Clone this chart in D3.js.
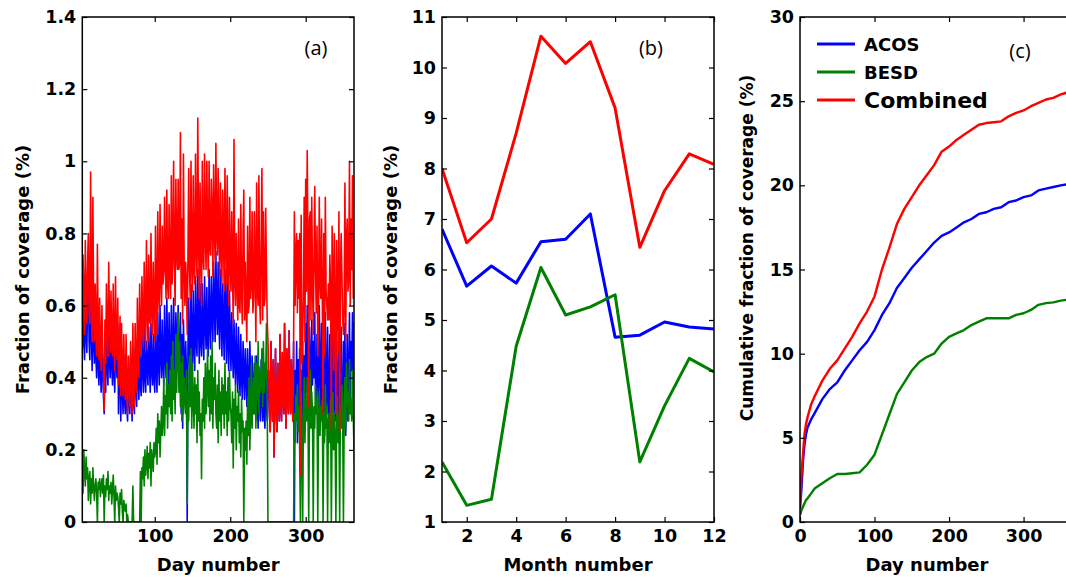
<!DOCTYPE html>
<html>
<head>
<meta charset="utf-8">
<script src="https://cdn.jsdelivr.net/npm/d3@7"></script>
<style>
  body { margin: 0; background: #fff; }
  svg { display: block; }
  .tick text { font-family: "DejaVu Sans", sans-serif; font-weight: bold; font-size: 17.5px; fill: #000; }
  .tick line { stroke: #000; stroke-width: 1.2; }
  .axis-title { font-family: "DejaVu Sans", sans-serif; font-weight: bold; font-size: 18px; fill: #000; }
  .panel-tag { font-family: "Open Sans", sans-serif; font-size: 20px; fill: #000; }
  .legend-label { font-family: "DejaVu Sans", sans-serif; font-weight: bold; fill: #000; }
</style>
</head>
<body>
<div id="chart"></div>
<script>
// ---- Panel (a): daily fraction of coverage (%) ----
const aBlue = [
  0.55,0.22,0.6,0.48,0.68,0.5,0.45,0.66,0.52,0.47,
  0.62,0.71,0.5,0.45,0.64,0.55,0.42,0.6,0.5,0.44,
  0.58,0.46,0.4,0.56,0.44,0.38,0.52,0.42,0.36,0.5,
  0.42,0.35,0.3,0.48,0.36,0.55,0.44,0.38,0.58,0.45,
  0.4,0.56,0.44,0.38,0.54,0.42,0.36,0.5,0.45,0.4,
  0.55,0.3,0.4,0.5,0.28,0.44,0.38,0.3,0.46,0.34,
  0.3,0.45,0.32,0.28,0.42,0.34,0.3,0.46,0.35,0.28,
  0.44,0.34,0.3,0.48,0.38,0.32,0.5,0.4,0.34,0.5,
  0.38,0.35,0.52,0.42,0.36,0.55,0.4,0.36,0.5,0.42,
  0.38,0.54,0.44,0.36,0.55,0.42,0.38,0.52,0.4,0.36,
  0.56,0.42,0.36,0.58,0.44,0.38,0.6,0.46,0.4,0.56,
  0.44,0.38,0.6,0.46,0.4,0.62,0.48,0.38,0.58,0.44,
  0.4,0.6,0.46,0.42,0.62,0.48,0.4,0.58,0.5,0.42,
  0.6,0.45,0.4,0.58,0.3,0.52,0.26,0.56,0.44,0.36,
  0.5,0.42,0.0,0.48,0.62,0.45,0.4,0.66,0.5,0.44,
  0.64,0.48,0.42,0.68,0.5,0.46,0.7,0.55,0.44,0.66,
  0.5,0.46,0.66,0.52,0.45,0.68,0.55,0.48,0.65,0.5,
  0.46,0.7,0.55,0.48,0.68,0.58,0.5,0.72,0.6,0.5,
  0.75,0.6,0.52,0.72,0.56,0.48,0.7,0.58,0.46,0.66,
  0.54,0.45,0.7,0.56,0.44,0.72,0.5,0.42,0.64,0.5,
  0.42,0.58,0.48,0.4,0.56,0.45,0.38,0.55,0.44,0.36,
  0.54,0.42,0.35,0.52,0.4,0.34,0.5,0.42,0.34,0.48,
  0.4,0.32,0.48,0.38,0.3,0.5,0.4,0.32,0.46,0.36,
  0.3,0.44,0.36,0.28,0.46,0.34,0.26,0.43,0.32,0.28,
  0.45,0.34,0.28,0.44,0.3,0.26,0.42,0.32,0.28,0.42,
  0.42,0.3,0.25,0.5,0.36,0.28,0.45,0.18,0.33,0.48,
  0.3,0.25,0.44,0.35,0.28,0.52,0.32,0.28,0.47,0.35,
  0.3,0.55,0.34,0.26,0.48,0.38,0.3,0.53,0.36,0.3,
  0.45,0.36,0.28,0.5,0.0,0.42,0.3,0.5,0.22,0.45,
  0.3,0.48,0.15,0.42,0.2,0.5,0.32,0.46,0.28,0.55,
  0.36,0.6,0.42,0.3,0.54,0.44,0.3,0.56,0.38,0.5,
  0.4,0.58,0.35,0.3,0.52,0.44,0.3,0.6,0.42,0.32,
  0.55,0.32,0.28,0.5,0.24,0.58,0.38,0.3,0.54,0.36,
  0.26,0.52,0.3,0.24,0.56,0.34,0.22,0.5,0.34,0.28,
  0.5,0.3,0.25,0.56,0.22,0.36,0.54,0.3,0.26,0.5,
  0.3,0.55,0.24,0.35,0.52,0.28,0.4,0.58,0.3,0.5,
  0.42,0.58,0.35,0.55,0.55
];
const aGreen = [
  0.22,0.1,0.18,0.12,0.08,0.2,0.14,0.1,0.18,0.12,
  0.15,0.06,0.12,0.14,0.05,0.12,0.08,0.15,0.1,0.06,
  0.1,0.12,0.08,0.0,0.11,0.09,0.12,0.07,0.1,0.12,
  0.08,0.13,0.0,0.1,0.07,0.12,0.09,0.14,0.06,0.1,
  0.08,0.11,0.05,0.09,0.13,0.07,0.0,0.1,0.06,0.08,
  0.07,0.04,0.0,0.08,0.05,0.09,0.03,0.0,0.06,0.04,
  0.03,0.05,0.0,0.02,0.0,0.0,0.0,0.0,0.0,0.0,
  0.1,0.0,0.0,0.0,0.0,0.0,0.0,0.0,0.0,0.0,
  0.14,0.0,0.15,0.12,0.18,0.1,0.2,0.13,0.16,0.21,
  0.12,0.19,0.15,0.22,0.1,0.2,0.17,0.14,0.22,0.18,
  0.2,0.26,0.16,0.3,0.22,0.28,0.18,0.25,0.32,0.24,
  0.28,0.4,0.24,0.35,0.3,0.44,0.26,0.38,0.32,0.42,
  0.3,0.46,0.28,0.5,0.34,0.42,0.3,0.52,0.36,0.48,
  0.58,0.36,0.5,0.32,0.44,0.28,0.46,0.3,0.4,0.34,
  0.3,0.42,0.05,0.36,0.28,0.46,0.32,0.48,0.26,0.44,
  0.34,0.26,0.4,0.3,0.38,0.22,0.42,0.28,0.36,0.24,
  0.3,0.12,0.34,0.28,0.4,0.26,0.44,0.3,0.38,0.48,
  0.32,0.42,0.28,0.46,0.3,0.5,0.26,0.4,0.34,0.44,
  0.3,0.26,0.38,0.22,0.42,0.28,0.36,0.24,0.4,0.3,
  0.38,0.26,0.44,0.3,0.36,0.24,0.4,0.28,0.42,0.32,
  0.3,0.22,0.36,0.15,0.34,0.26,0.38,0.2,0.32,0.28,
  0.36,0.22,0.3,0.18,0.34,0.25,0.28,0.0,0.26,0.2,
  0.28,0.16,0.34,0.24,0.4,0.2,0.3,0.44,0.26,0.36,
  0.4,0.3,0.46,0.26,0.44,0.34,0.5,0.3,0.42,0.36,
  0.38,0.48,0.32,0.5,0.36,0.44,0.4,0.55,0.34,0.0,
  0.0,0.0,0.0,0.0,0.0,0.0,0.0,0.0,0.0,0.0,
  0.0,0.0,0.0,0.0,0.0,0.0,0.0,0.0,0.0,0.0,
  0.0,0.0,0.0,0.0,0.0,0.0,0.0,0.0,0.0,0.0,
  0.0,0.0,0.0,0.0,0.3,0.22,0.35,0.28,0.38,0.25,
  0.32,0.2,0.0,0.36,0.24,0.0,0.3,0.4,0.22,0.34,
  0.28,0.4,0.34,0.0,0.3,0.42,0.26,0.36,0.3,0.0,
  0.32,0.26,0.38,0.3,0.34,0.0,0.28,0.36,0.24,0.32,
  0.28,0.34,0.0,0.3,0.22,0.38,0.26,0.32,0.0,0.28,
  0.3,0.22,0.34,0.0,0.26,0.36,0.2,0.3,0.24,0.0,
  0.28,0.35,0.22,0.3,0.0,0.32,0.26,0.38,0.3,0.0,
  0.3,0.4,0.26,0.44,0.32,0.36,0.28,0.45,0.3,0.34,
  0.28,0.42,0.3,0.2,0.15
];
const aRed = [
  0.8,0.6,0.7,0.55,0.74,0.62,0.52,0.78,0.62,0.55,
  0.72,0.8,0.58,0.55,0.97,0.64,0.5,0.9,0.6,0.5,
  0.66,0.55,0.46,0.77,0.52,0.45,0.62,0.48,0.42,0.6,
  0.48,0.42,0.31,0.56,0.44,0.66,0.52,0.46,0.72,0.55,
  0.47,0.64,0.5,0.46,0.66,0.5,0.42,0.68,0.5,0.45,
  0.62,0.38,0.45,0.57,0.35,0.55,0.42,0.35,0.52,0.38,
  0.34,0.52,0.36,0.3,0.46,0.38,0.32,0.5,0.4,0.3,
  0.55,0.36,0.32,0.55,0.42,0.36,0.62,0.45,0.4,0.66,
  0.5,0.46,0.68,0.54,0.5,0.72,0.58,0.48,0.78,0.6,
  0.5,0.74,0.56,0.55,0.8,0.58,0.52,0.72,0.6,0.5,
  0.82,0.62,0.52,0.86,0.64,0.58,0.88,0.68,0.6,0.82,
  0.66,0.7,0.9,0.7,0.62,0.92,0.66,0.62,0.88,0.7,
  0.62,0.96,0.66,0.74,1.0,0.72,0.6,0.95,0.74,0.7,
  0.95,0.7,0.72,1.08,0.62,0.84,0.55,1.02,0.7,0.6,
  0.72,0.66,0.52,0.74,0.98,0.7,0.62,1.0,0.72,0.64,
  0.96,0.7,0.66,1.02,0.76,0.68,1.12,0.8,0.62,0.94,
  0.74,0.6,1.0,0.74,0.7,1.02,0.8,0.7,1.0,0.78,
  0.68,1.0,0.76,0.74,0.95,0.85,0.68,0.99,0.82,0.72,
  1.05,0.8,0.74,0.98,0.8,0.68,0.94,0.76,0.66,0.92,
  0.8,0.64,0.98,0.78,0.66,0.96,0.74,0.6,0.9,0.72,
  0.64,0.86,0.7,0.55,1.06,0.68,0.6,0.8,0.66,0.56,
  0.84,0.6,0.58,0.88,0.64,0.55,0.8,0.92,0.56,0.72,
  0.6,0.5,0.82,0.58,0.6,0.9,0.62,0.66,0.86,0.58,
  0.62,0.86,0.7,0.5,0.94,0.64,0.6,0.96,0.62,0.55,
  0.78,0.98,0.56,0.86,0.6,0.62,0.87,0.7,0.56,0.5,
  0.42,0.3,0.25,0.5,0.36,0.28,0.45,0.18,0.33,0.48,
  0.3,0.25,0.44,0.35,0.28,0.52,0.32,0.28,0.47,0.35,
  0.3,0.55,0.34,0.26,0.48,0.38,0.3,0.53,0.36,0.3,
  0.45,0.36,0.28,0.5,0.86,0.6,0.74,0.8,0.58,0.78,
  0.62,0.8,0.13,0.85,0.44,0.52,0.62,0.9,0.5,0.95,
  0.64,1.03,0.76,0.32,0.84,0.86,0.56,0.9,0.68,0.52,
  0.72,0.93,0.7,0.58,0.82,0.46,0.58,0.9,0.66,0.62,
  0.84,0.62,0.3,0.8,0.46,0.9,0.64,0.6,0.56,0.66,
  0.56,0.74,0.64,0.26,0.82,0.7,0.42,0.8,0.58,0.3,
  0.78,0.65,0.47,0.86,0.25,0.68,0.8,0.68,0.56,0.52,
  0.6,0.94,0.5,0.78,0.84,0.64,0.68,1.0,0.6,0.84,
  0.7,0.96,0.62,0.8,0.72
];
const aDays = d3.range(1, aRed.length + 1);
const aYTicks = [0, 0.2, 0.4, 0.6, 0.8, 1, 1.2, 1.4];
const aXTicks = [100, 200, 300];

// ---- Panel (b): monthly fraction of coverage (%) ----
const bMonths = [1, 2, 3, 4, 5, 6, 7, 8, 9, 10, 11, 12];
const bBlue  = [6.8, 5.67, 6.07, 5.73, 6.55, 6.6, 7.1, 4.66, 4.7, 4.96, 4.86, 4.82];
const bGreen = [2.19, 1.33, 1.45, 4.48, 6.04, 5.1, 5.26, 5.5, 2.19, 3.3, 4.24, 3.97];
const bRed   = [8.0, 6.53, 7.0, 8.7, 10.62, 10.08, 10.51, 9.2, 6.44, 7.56, 8.29, 8.08];
const bYTicks = [1, 2, 3, 4, 5, 6, 7, 8, 9, 10, 11];
const bXTicks = [2, 4, 6, 8, 10, 12];

// ---- Panel (c): cumulative fraction of coverage (%) ----
const cDays  = [0,2,4,6,8,10,15,20,30,40,50,60,70,80,90,100,110,120,130,140,150,160,170,180,190,200,210,220,230,240,250,260,270,280,290,300,310,320,330,340,350,365];
const cBlue  = [0.8,2.0,3.6,4.6,5.2,5.6,6.1,6.5,7.3,7.9,8.3,9.0,9.6,10.2,10.7,11.4,12.3,13.0,13.9,14.5,15.1,15.6,16.1,16.6,17.0,17.2,17.5,17.8,18.0,18.3,18.4,18.6,18.7,19.0,19.1,19.3,19.4,19.7,19.8,19.9,20.0,20.1];
const cGreen = [0.4,0.7,0.9,1.1,1.3,1.4,1.7,2.0,2.3,2.6,2.85,2.85,2.9,2.95,3.4,4.0,5.2,6.4,7.6,8.3,9.0,9.5,9.8,10.0,10.6,11.0,11.2,11.4,11.7,11.9,12.1,12.1,12.1,12.1,12.3,12.4,12.6,12.9,13.0,13.05,13.15,13.25];
const cRed   = [1.0,2.8,4.0,5.2,5.8,6.2,7.0,7.5,8.4,9.1,9.6,10.3,11.0,11.8,12.5,13.4,15.0,16.3,17.7,18.6,19.3,20.0,20.6,21.2,22.0,22.3,22.7,23.0,23.3,23.6,23.7,23.75,23.8,24.1,24.3,24.45,24.7,24.9,25.1,25.2,25.4,25.6];
const cYTicks = [0, 5, 10, 15, 20, 25, 30];
const cXTicks = [0, 100, 200, 300];

const seriesNames = ["ACOS", "BESD", "Combined"];
const colors = { ACOS: "#0000ff", BESD: "#008000", Combined: "#ff0000" };

// ---- Layout ----
const W = 1066, H = 582;
const plotTop = 17, plotBottom = 522;

const svg = d3.select("#chart").append("svg")
    .attr("width", W).attr("height", H)
    .attr("viewBox", `0 0 ${W} ${H}`);
svg.append("rect").attr("width", W).attr("height", H).attr("fill", "#fff");
const defs = svg.append("defs");

function drawPanel(p) {
    const x = d3.scaleLinear().domain(p.xDomain).range([p.left, p.right]);
    const y = d3.scaleLinear().domain(p.yDomain).range([plotBottom, plotTop]);
    const g = svg.append("g").attr("class", "panel-" + p.id);

    defs.append("clipPath").attr("id", "clip-" + p.id)
        .append("rect")
        .attr("x", p.left).attr("y", plotTop)
        .attr("width", p.right - p.left).attr("height", plotBottom - plotTop);

    const line = d3.line().x(d => x(d[0])).y(d => y(d[1]));
    p.series.forEach(s => {
        g.append("path")
            .datum(d3.zip(p.xValues, s.values))
            .attr("clip-path", `url(#clip-${p.id})`)
            .attr("fill", "none")
            .attr("stroke", colors[s.name])
            .attr("stroke-width", p.lineWidth)
            .attr("stroke-linejoin", "round")
            .attr("d", line);
    });

    // axes, MATLAB style: inward ticks on all four sides
    const fmt = d3.format("~g");
    g.append("g").attr("transform", `translate(0,${plotBottom})`)
        .call(d3.axisBottom(x).tickValues(p.xTicks).tickSize(-5).tickSizeOuter(0).tickPadding(7.5).tickFormat(fmt));
    g.append("g").attr("transform", `translate(0,${plotTop})`)
        .call(d3.axisTop(x).tickValues(p.xTicks).tickSize(-5).tickSizeOuter(0).tickFormat(""));
    g.append("g").attr("transform", `translate(${p.left},0)`)
        .call(d3.axisLeft(y).tickValues(p.yTicks).tickSize(-5).tickSizeOuter(0).tickPadding(6).tickFormat(fmt));
    g.append("g").attr("transform", `translate(${p.right},0)`)
        .call(d3.axisRight(y).tickValues(p.yTicks).tickSize(-5).tickSizeOuter(0).tickFormat(""));
    g.selectAll(".domain").remove();

    g.append("rect")
        .attr("x", p.left).attr("y", plotTop)
        .attr("width", p.right - p.left).attr("height", plotBottom - plotTop)
        .attr("fill", "none").attr("stroke", "#000").attr("stroke-width", 1.5);

    g.append("text").attr("class", "axis-title")
        .attr("x", (p.left + Math.min(p.right, W)) / 2 + (p.xTitleShift || 0)).attr("y", 571)
        .attr("text-anchor", "middle").text(p.xTitle);
    g.append("text").attr("class", "axis-title")
        .attr("transform", `translate(${p.yTitleX},${p.yTitleY || (plotTop + plotBottom) / 2}) rotate(-90)`)
        .attr("text-anchor", "middle")
        .style("font-size", p.yTitleSize || null)
        .text(p.yTitle);

    g.append("text").attr("class", "panel-tag")
        .attr("x", p.tagX).attr("y", p.tagY)
        .attr("text-anchor", "middle").text(p.tag);
    return { x, y, g };
}

drawPanel({
    id: "a", left: 82.3, right: 354, xDomain: [4, 364], yDomain: [0, 1.4],
    xTicks: aXTicks, yTicks: aYTicks, xValues: aDays, lineWidth: 1.6,
    series: [{ name: "ACOS", values: aBlue }, { name: "BESD", values: aGreen }, { name: "Combined", values: aRed }],
    xTitle: "Day number", yTitle: "Fraction of coverage (%)", yTitleX: 29,
    tag: "(a)", tagX: 316, tagY: 55
});

drawPanel({
    id: "b", left: 442, right: 714, xDomain: [1, 12], yDomain: [1, 11],
    xTicks: bXTicks, yTicks: bYTicks, xValues: bMonths, lineWidth: 3,
    series: [{ name: "Combined", values: bRed }, { name: "ACOS", values: bBlue }, { name: "BESD", values: bGreen }],
    xTitle: "Month number", yTitle: "Fraction of coverage (%)", yTitleX: 397,
    tag: "(b)", tagX: 651, tagY: 55
});

drawPanel({
    id: "c", left: 800, right: 1072, xDomain: [0, 365], yDomain: [0, 30],
    xTicks: cXTicks, yTicks: cYTicks, xValues: cDays, lineWidth: 2.4,
    series: [{ name: "ACOS", values: cBlue }, { name: "BESD", values: cGreen }, { name: "Combined", values: cRed }],
    xTitle: "Day number", yTitle: "Cumulative fraction of coverage (%)", yTitleX: 753, yTitleY: 248, yTitleSize: "17px",
    xTitleShift: -6, tag: "(c)", tagX: 1020, tagY: 58
});

// ---- Legend (panel c) ----
const legend = svg.append("g").attr("class", "legend");
const legendY = d3.scalePoint().domain(seriesNames).range([44, 100]);
seriesNames.forEach(name => {
    legend.append("line")
        .attr("x1", 817).attr("x2", 855)
        .attr("y1", legendY(name)).attr("y2", legendY(name))
        .attr("stroke", colors[name]).attr("stroke-width", 3);
    const big = name === "Combined";
    legend.append("text").attr("class", "legend-label")
        .attr("x", 864).attr("y", legendY(name) + (big ? 8 : 6.5))
        .style("font-size", big ? "22px" : "18px")
        .text(name);
});
</script>
</body>
</html>
